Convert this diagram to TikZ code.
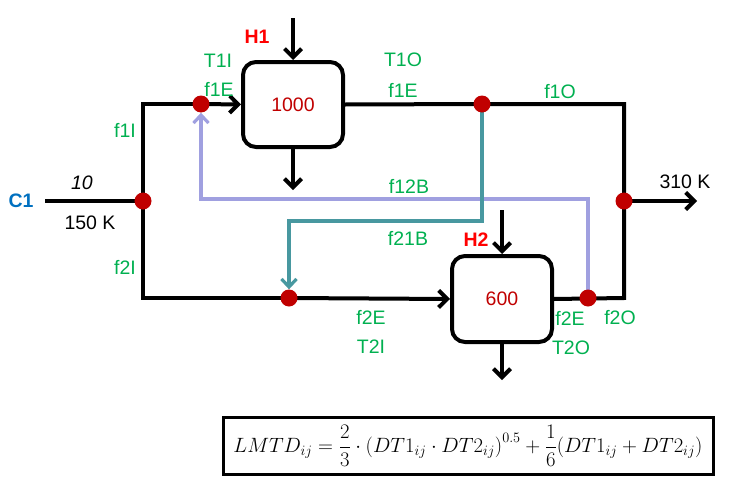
\documentclass[tikz,border=0pt]{standalone}
\usepackage{fontspec}
\setmainfont{Liberation Sans}
\usepackage{graphicx}
\usetikzlibrary{arrows.meta}
\definecolor{lblgreen}{RGB}{0,176,80}
\definecolor{dotred}{RGB}{192,0,0}
\definecolor{hotred}{RGB}{255,0,0}
\definecolor{coldblue}{RGB}{0,112,192}
\definecolor{lav}{RGB}{160,160,224}
\definecolor{tealc}{RGB}{72,152,160}
\pgfdeclarelayer{bg}
\pgfsetlayers{bg,main}
\begin{document}
\begin{tikzpicture}[x=1pt,y=-1pt,
  every node/.style={font=\fontsize{19.5}{23}\selectfont},
  flow/.style={line width=4pt, black},
  arr/.style={-{Straight Barb[length=8.5pt,width=17pt]}},
  carr/.style={-{Straight Barb[length=8pt,width=15pt]}},
  hx/.style={draw, line width=4pt, rounded corners=13pt, minimum width=100pt, inner sep=0pt, text=dotred},
  dot/.style={circle, fill=dotred, inner sep=0pt, minimum size=17pt},
  lbl/.style={text=lblgreen, inner sep=0pt},
  txt/.style={inner sep=0pt},
  streamlbl/.style={inner sep=0pt, font=\fontsize{19.5}{23}\selectfont\bfseries},
  lavline/.style={draw=lav, line width=3.2pt},
  tealline/.style={draw=tealc, line width=3.2pt}
]
\useasboundingbox (0,0) rectangle (729,490);

% exchangers
\node[hx, minimum height=85pt] (box1) at (293,104.5) {1000};
\node[hx, minimum height=86pt] (box2) at (502,299) {600};

% split / mix points
\node[dot] (j1) at (143,201) {};
\node[dot] (d1) at (201,104) {};
\node[dot] (d2) at (482,104) {};
\node[dot] (j2) at (624,201) {};
\node[dot] (d3) at (289,298) {};
\node[dot] (d4) at (588,298) {};

% corner and end points
\coordinate (c1in) at (45,201);
\coordinate (tl) at (143,104);
\coordinate (bl) at (143,298);
\coordinate (tr) at (624,104);
\coordinate (br) at (624,298);
\coordinate (out) at (697,201);
\coordinate (h1top) at (293,18);
\coordinate (h1bot) at (293,190);
\coordinate (h2top) at (502,210);
\coordinate (h2bot) at (502,380);
\coordinate (lv1) at (588,199);
\coordinate (lv2) at (201,199);
\coordinate (tv1) at (482,221);
\coordinate (tv2) at (289,221);

\begin{pgfonlayer}{bg}
  \draw[lavline, carr] (d4.center) -- (lv1) -- (lv2) -- (d1.south);
  \draw[tealline, carr] (d2.center) -- (tv1) -- (tv2) -- (d3.north);
  \draw[flow] (c1in) -- (j1.center);
  \draw[flow] (d3.center) -- (bl) -- (tl) -- (d1.center);
  \draw[flow, arr] (d1.center) -- (box1.west);
  \draw[flow] (box1.east) -- (d2.center) -- (tr) -- (br) -- (box2.east);
  \draw[flow, arr] (d3.center) -- (box2.west);
  \draw[flow, arr] (j2.center) -- (out);
  \draw[flow, arr] (h1top) -- (box1.north);
  \draw[flow, arr] (box1.south) -- (h1bot);
  \draw[flow, arr] (h2top) -- (box2.north);
  \draw[flow, arr] (box2.south) -- (h2bot);
\end{pgfonlayer}

% stream labels
\node[streamlbl, text=coldblue] (c1) at (21,201) {C1};
\node[streamlbl, text=hotred] (h1) at (257,37) {H1};
\node[streamlbl, text=hotred] (h2) at (476,240) {H2};
\node[txt] (fl) at (82,183) {\itshape 10};
\node[txt] (tin) at (90,223) {150 K};
\node[txt] (tout) at (685,182) {310 K};

% green labels
\node[lbl] (t1i) at (218,61) {T1I};
\node[lbl] (f1e) at (219,89) {f1E};
\node[lbl] (t1o) at (403,60) {T1O};
\node[lbl] (f1eo) at (403,90) {f1E};
\node[lbl] (f1o) at (560,92) {f1O};
\node[lbl] (f1i) at (125,130) {f1I};
\node[lbl] (f12b) at (409,186) {f12B};
\node[lbl] (f21b) at (408,238) {f21B};
\node[lbl] (f2i) at (125,267) {f2I};
\node[lbl] (f2e) at (371,317) {f2E};
\node[lbl] (t2i) at (371,347) {T2I};
\node[lbl] (f2eo) at (570,318) {f2E};
\node[lbl] (t2o) at (571,348) {T2O};
\node[lbl] (f2o) at (620,318) {f2O};

% formula
\node[draw, line width=3pt, inner sep=0pt, minimum width=490pt, minimum height=57pt] (lmtd) at (468,445.5)
  {\resizebox{469pt}{!}{$\displaystyle LMTD_{ij}=\frac{2}{3}\cdot\biggl(DT1_{ij}\cdot DT2_{ij}\biggr)^{0.5}+\frac{1}{6}\biggl(DT1_{ij}+DT2_{ij}\biggr)$}};
\end{tikzpicture}
\end{document}
